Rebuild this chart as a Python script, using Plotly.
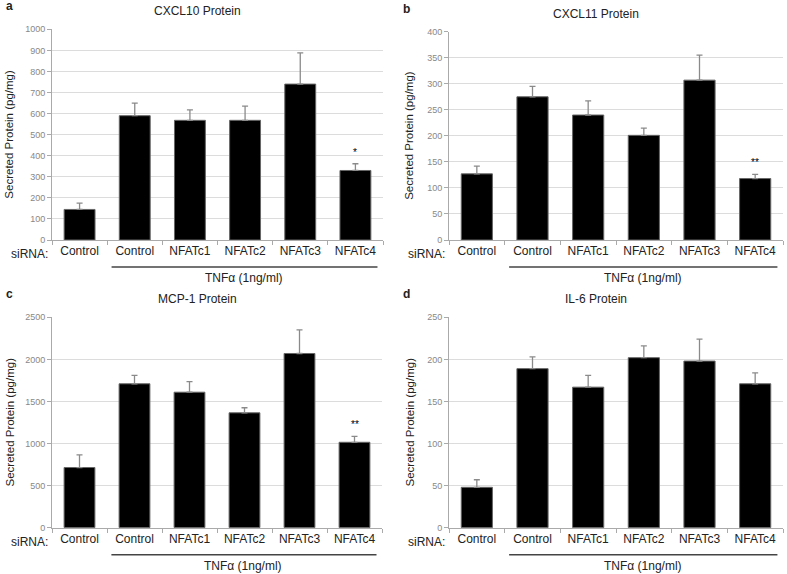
import plotly.graph_objects as go

categories = ["Control", "Control", "NFATc1", "NFATc2", "NFATc3", "NFATc4"]

titles = ["CXCL10 Protein", "CXCL11 Protein", "MCP-1 Protein", "IL-6 Protein"]
letters = ["a", "b", "c", "d"]

cxcl10_vals = [145, 590, 568, 568, 740, 330]
cxcl10_errs = [30, 60, 50, 67, 148, 32]
cxcl11_vals = [127, 275, 240, 201, 307, 118]
cxcl11_errs = [15, 20, 27, 14, 48, 8]
mcp1_vals = [715, 1710, 1610, 1365, 2070, 1015]
mcp1_errs = [150, 100, 125, 60, 280, 70]
il6_vals = [48, 189, 167, 202, 198, 171]
il6_errs = [9, 14, 14, 14, 26, 13]

y_max = [1000, 400, 2500, 250]
y_dtick = [100, 50, 500, 50]

# significance marks: (panel index, category index, y value, text)
sig_marks = [(0, 5, 413, "*"), (1, 5, 148, "**"), (2, 5, 1232, "**")]

values = [cxcl10_vals, cxcl11_vals, mcp1_vals, il6_vals]
errors = [cxcl10_errs, cxcl11_errs, mcp1_errs, il6_errs]

W, H = 787, 574
FONT = "Arial, Liberation Sans, sans-serif"

# plot areas in pixels: (x0, x1, ytop, ybottom)
areas = [(52, 383, 29.3, 240), (449, 783, 31.7, 240),
         (52, 382, 317.3, 527.7), (449, 783, 317.3, 527.7)]

def px(x):
    return x / W

def py(y):
    return 1 - y / H

fig = go.Figure()
layout = dict(width=W, height=H, margin=dict(l=0, r=0, t=0, b=0),
              plot_bgcolor="white", paper_bgcolor="white",
              showlegend=False, font=dict(family=FONT, color="#222"))
annotations = []
shapes = []

for i in range(4):
    x0, x1, yt, yb = areas[i]
    xa = "xaxis" if i == 0 else f"xaxis{i+1}"
    ya = "yaxis" if i == 0 else f"yaxis{i+1}"
    xr = "x" if i == 0 else f"x{i+1}"
    yr = "y" if i == 0 else f"y{i+1}"
    fig.add_trace(go.Bar(
        x=list(range(6)), y=values[i], width=0.56,
        marker=dict(color="black", line=dict(color="#666", width=1)),
        error_y=dict(type="data", array=errors[i], arrayminus=[0] * 6,
                     symmetric=False, color="#8a8a8a", thickness=1.3, width=3),
        xaxis=xr, yaxis=yr))
    layout[xa] = dict(domain=[px(x0), px(x1)], anchor=yr, range=[-0.5, 5.5],
                      tickmode="array", tickvals=list(range(6)), ticktext=categories,
                      ticks="", showgrid=False, showline=True, linecolor="#aaa",
                      linewidth=1, zeroline=False, automargin=False,
                      tickfont=dict(size=12, color="#222", family=FONT),
                      minor=dict(tickmode="array", tickvals=[k - 0.5 for k in range(7)],
                                 ticks="outside", ticklen=4, tickcolor="#aaa", showgrid=False))
    layout[ya] = dict(domain=[py(yb), py(yt)], anchor=xr, range=[0, y_max[i]],
                      dtick=y_dtick[i], tick0=0, showgrid=True, gridcolor="#dcdcdc",
                      gridwidth=1, showline=True, linecolor="#aaa", linewidth=1,
                      ticks="outside", ticklen=4, tickcolor="#aaa", zeroline=False,
                      automargin=False,
                      tickfont=dict(size=9, color="#888", family=FONT))
    # title
    annotations.append(dict(text=titles[i], x=px(x0 + (x1 - x0) / 2 - 20), y=py(yt - 18),
                            xref="paper", yref="paper", showarrow=False,
                            font=dict(size=12, color="#222"), xanchor="center", yanchor="middle"))
    # panel letter
    annotations.append(dict(text=f"<b>{letters[i]}</b>", x=px(x0 - 48), y=py(yt - 23),
                            xref="paper", yref="paper", showarrow=False,
                            font=dict(size=12, color="#222"), xanchor="left", yanchor="middle"))
    # y title
    annotations.append(dict(text="Secreted Protein (pg/mg)", x=px(x0 - 40 if i % 2 else x0 - 43),
                            y=py((yt + yb) / 2), xref="paper", yref="paper", showarrow=False,
                            textangle=-90, font=dict(size=11.5, color="#222"),
                            xanchor="center", yanchor="middle"))
    # siRNA label
    annotations.append(dict(text="siRNA:", x=px(x0 - 2), y=py(yb + 14), xref="paper",
                            yref="paper", showarrow=False, font=dict(size=12, color="#222"),
                            xanchor="right", yanchor="middle"))
    # underline for TNFa group
    shapes.append(dict(type="line", xref=xr, yref="paper", x0=0.58, x1=5.4,
                       y0=py(yb + 27), y1=py(yb + 27), line=dict(color="#444", width=1.5)))
    annotations.append(dict(text="TNFα (1ng/ml)", x=2.98, xref=xr, y=py(yb + 38), yref="paper",
                            showarrow=False, font=dict(size=12, color="#222"),
                            xanchor="center", yanchor="middle"))

for (p, c, yv, t) in sig_marks:
    yr = "y" if p == 0 else f"y{p+1}"
    xr = "x" if p == 0 else f"x{p+1}"
    annotations.append(dict(text=t, x=c, y=yv, xref=xr, yref=yr, showarrow=False,
                            font=dict(size=10, color="#000"), xanchor="center", yanchor="middle"))

layout["annotations"] = annotations
layout["shapes"] = shapes
fig.update_layout(**layout)
fig.write_html("out.html", config={"displayModeBar": False},
               post_script="document.body.style.margin='0';document.body.style.overflow='hidden';")
